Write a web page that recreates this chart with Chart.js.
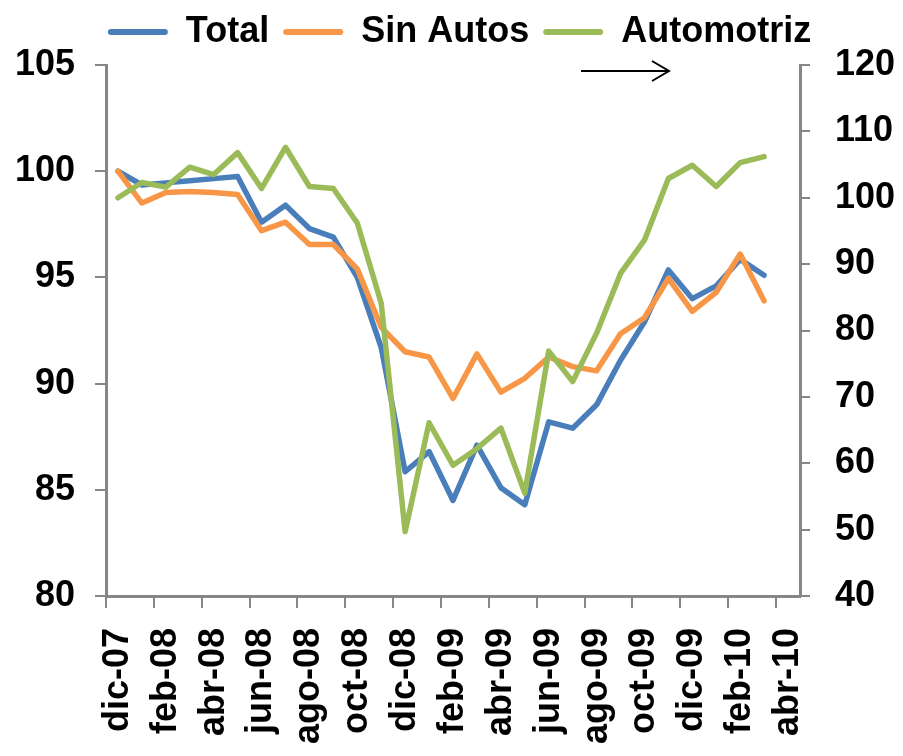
<!DOCTYPE html>
<html>
<head>
<meta charset="utf-8">
<script src="https://cdn.jsdelivr.net/npm/chart.js@4.4.0/dist/chart.umd.min.js"></script>
<style>
  html, body { margin: 0; padding: 0; background: #fff; }
</style>
</head>
<body>
<canvas id="chart" width="903" height="756"></canvas>
<script>
// monthly index, dic-07 = 100 ; Automotriz goes on the right axis
const months = [
  "dic-07", "ene-08", "feb-08", "mar-08", "abr-08", "may-08", "jun-08", "jul-08",
  "ago-08", "sep-08", "oct-08", "nov-08", "dic-08", "ene-09", "feb-09", "mar-09",
  "abr-09", "may-09", "jun-09", "jul-09", "ago-09", "sep-09", "oct-09", "nov-09",
  "dic-09", "ene-10", "feb-10", "mar-10", "abr-10"
];

const total = [
  100.0, 99.35, 99.45, 99.55, 99.65, 99.75, 97.6, 98.4, 97.3, 96.9, 95.0, 91.7,
  85.85, 86.8, 84.5, 87.1, 85.1, 84.3, 88.2, 87.9, 89.0, 91.1, 92.9, 95.35,
  94.0, 94.6, 95.85, 95.1
];

const sinAutos = [
  100.0, 98.5, 99.0, 99.05, 99.0, 98.9, 97.2, 97.6, 96.55, 96.55, 95.4, 92.65,
  91.5, 91.25, 89.3, 91.4, 89.6, 90.25, 91.25, 90.8, 90.6, 92.35, 93.1, 94.95,
  93.4, 94.3, 96.1, 93.9
];

const automotriz = [
  100.0, 102.3, 101.6, 104.6, 103.5, 106.8, 101.4, 107.6, 101.7, 101.4, 96.2, 84.1,
  49.7, 66.1, 59.7, 62.2, 65.3, 55.5, 76.9, 72.3, 79.6, 88.6, 93.6, 102.9,
  104.9, 101.7, 105.3, 106.2
];

const axisGray = "#868686";
const bigFont = { family: "'Liberation Sans', Arial, sans-serif", size: 36, weight: "bold" };

Chart.defaults.font.family = "'Liberation Sans', Arial, sans-serif";
Chart.defaults.color = "#000";

// fixed legend height so the plot starts where the original does,
// plus the little arrow pointing at the right axis
const layoutFix = {
  id: "layoutFix",
  beforeLayout(chart) {
    const lg = chart.legend;
    if (lg && !lg._fixed) {
      const fit = lg.fit;
      lg.fit = function () { fit.call(this); this.height = 65; };
      lg._fixed = true;
    }
  },
  afterDraw(chart) {
    const ctx = chart.ctx;
    ctx.save();
    ctx.strokeStyle = "#000";
    ctx.lineWidth = 2;
    ctx.beginPath();
    ctx.moveTo(581, 71);
    ctx.lineTo(669, 71);
    ctx.moveTo(652, 61);
    ctx.lineTo(669, 71);
    ctx.lineTo(652, 81);
    ctx.stroke();
    ctx.restore();
  }
};

function lineSet(label, data, color, axis, order) {
  return {
    label: label,
    data: data,
    yAxisID: axis,
    borderColor: color,
    backgroundColor: color,
    borderWidth: 5.5,
    pointRadius: 0,
    tension: 0,
    borderJoinStyle: "round",
    borderCapStyle: "round",
    order: order
  };
}

new Chart(document.getElementById("chart"), {
  type: "line",
  data: {
    labels: months,
    datasets: [
      lineSet("Total", total, "#4A7EBB", "y", 2),
      lineSet("Sin Autos", sinAutos, "#F79646", "y", 1),
      lineSet("Automotriz", automotriz, "#9BBB59", "y2", 0)
    ]
  },
  options: {
    responsive: false,
    animation: false,
    layout: { padding: { left: 16, right: 0, top: 0, bottom: 0 } },
    plugins: {
      tooltip: { enabled: false },
      legend: {
        position: "top",
        labels: {
          font: bigFont,
          color: "#000",
          boxWidth: 60,
          boxHeight: 6,
          padding: 14,
          useBorderRadius: true,
          borderRadius: 3,
          sort: (a, b) => a.datasetIndex - b.datasetIndex,
          generateLabels(chart) {
            const items = Chart.defaults.plugins.legend.labels.generateLabels(chart);
            items.forEach(it => { it.lineWidth = 0; it.fillStyle = it.strokeStyle; });
            return items;
          }
        }
      }
    },
    scales: {
      x: {
        type: "category",
        offset: true,
        grid: {
          offset: true,
          drawOnChartArea: false,
          drawTicks: true,
          tickLength: 12,
          lineWidth: 2,
          color: ctx => (ctx.index % 2 === 0 ? axisGray : "rgba(0,0,0,0)")
        },
        border: { color: axisGray, width: 3 },
        ticks: {
          autoSkip: false,
          minRotation: 90,
          maxRotation: 90,
          padding: 20,
          font: bigFont,
          color: "#000",
          callback: function (v, i) { return i % 2 === 0 ? this.getLabelForValue(v) : ""; }
        },
        afterFit(s) { s.height = 160; }
      },
      y: {
        position: "left",
        min: 80,
        max: 105,
        grid: { drawOnChartArea: false, tickLength: 11, lineWidth: 2, color: axisGray },
        border: { color: axisGray, width: 3 },
        ticks: { stepSize: 5, padding: 20, font: bigFont, color: "#000" },
        afterFit(s) { s.width = 90; }
      },
      y2: {
        position: "right",
        min: 40,
        max: 120,
        grid: { drawOnChartArea: false, tickLength: 10, lineWidth: 2, color: axisGray },
        border: { color: axisGray, width: 3 },
        ticks: { stepSize: 10, padding: 25, font: bigFont, color: "#000" },
        afterFit(s) { s.width = 103; }
      }
    }
  },
  plugins: [layoutFix]
});
</script>
</body>
</html>
